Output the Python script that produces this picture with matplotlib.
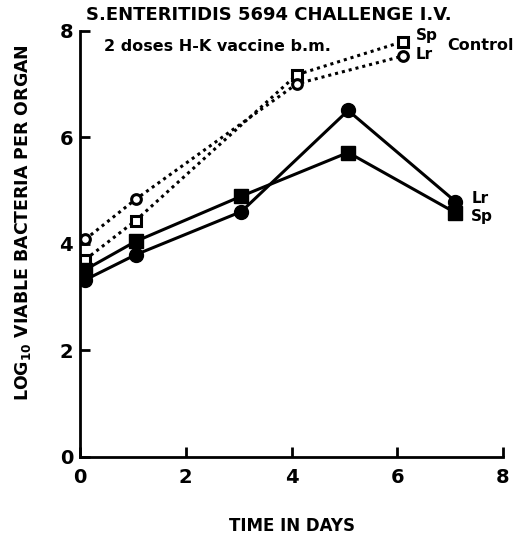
import matplotlib
matplotlib.use("Agg")
import matplotlib.pyplot as plt

# Data
ctrl_days = [0.1, 1.05, 4.1, 6.1]
ctrl_sp = [3.70, 4.43, 7.17, 7.79]
ctrl_lr = [4.08, 4.83, 7.00, 7.52]
vac_days = [0.1, 1.05, 3.05, 5.07, 7.1]
vac_sp = [3.51, 4.04, 4.89, 5.71, 4.58]
vac_lr = [3.32, 3.79, 4.60, 6.50, 4.79]
xticks = [0, 2, 4, 6, 8]
yticks = [0, 2, 4, 6, 8]

plt.rcParams['font.family'] = ['DejaVu Sans']
fig = plt.figure(figsize=(5.17, 5.36), dpi=100)
ax = fig.add_axes([0.1547, 0.148, 0.973 - 0.1547, 0.943 - 0.148])

ax.plot(ctrl_days, ctrl_sp, color='black', lw=2.2, ls=(0, (1, 1.3)), marker='s', ms=7,
        mfc='white', mec='black', mew=2.2)
ax.plot(ctrl_days, ctrl_lr, color='black', lw=2.2, ls=(0, (1, 1.3)), marker='o', ms=7,
        mfc='white', mec='black', mew=2.2)
ax.plot(vac_days, vac_sp, '-', color='black', lw=2.2, marker='s', ms=10,
        mfc='black', mec='black')
ax.plot(vac_days, vac_lr, '-', color='black', lw=2.2, marker='o', ms=10,
        mfc='black', mec='black')

ax.set_xlim(0, 8)
ax.set_ylim(0, 8)
ax.set_xticks(xticks)
ax.set_yticks(yticks)
ax.spines['top'].set_visible(False)
ax.spines['right'].set_visible(False)
for s in ['left', 'bottom']:
    ax.spines[s].set_linewidth(2)
ax.tick_params(direction='in', length=7, width=2, labelsize=14)
ax.tick_params(axis='y', pad=5)
ax.tick_params(axis='x', pad=8)
for lab in ax.get_xticklabels() + ax.get_yticklabels():
    lab.set_fontweight('bold')

ax.set_xlabel('TIME IN DAYS', fontsize=12, fontweight='bold', labelpad=22)
ax.set_ylabel('LOG$_{\\mathbf{10}}$ VIABLE BACTERIA PER ORGAN', fontsize=12.5,
              fontweight='bold')
ax.yaxis.set_label_coords(-0.11, 0.55)

fig.text(0.52, 0.972, 'S.ENTERITIDIS 5694 CHALLENGE I.V.', ha='center', va='center',
         fontsize=13, fontweight='bold')
ax.text(0.45, 7.7, '2 doses H-K vaccine b.m.', fontsize=11.5, fontweight='bold',
        va='center')
ax.text(6.35, 7.9, 'Sp', fontsize=11, fontweight='bold', va='center')
ax.text(6.35, 7.55, 'Lr', fontsize=11, fontweight='bold', va='center')
ax.text(6.95, 7.72, 'Control', fontsize=11.5, fontweight='bold', va='center')
ax.text(7.4, 4.85, 'Lr', fontsize=11, fontweight='bold', va='center')
ax.text(7.4, 4.5, 'Sp', fontsize=11, fontweight='bold', va='center')

fig.savefig('out.png', dpi=100)
